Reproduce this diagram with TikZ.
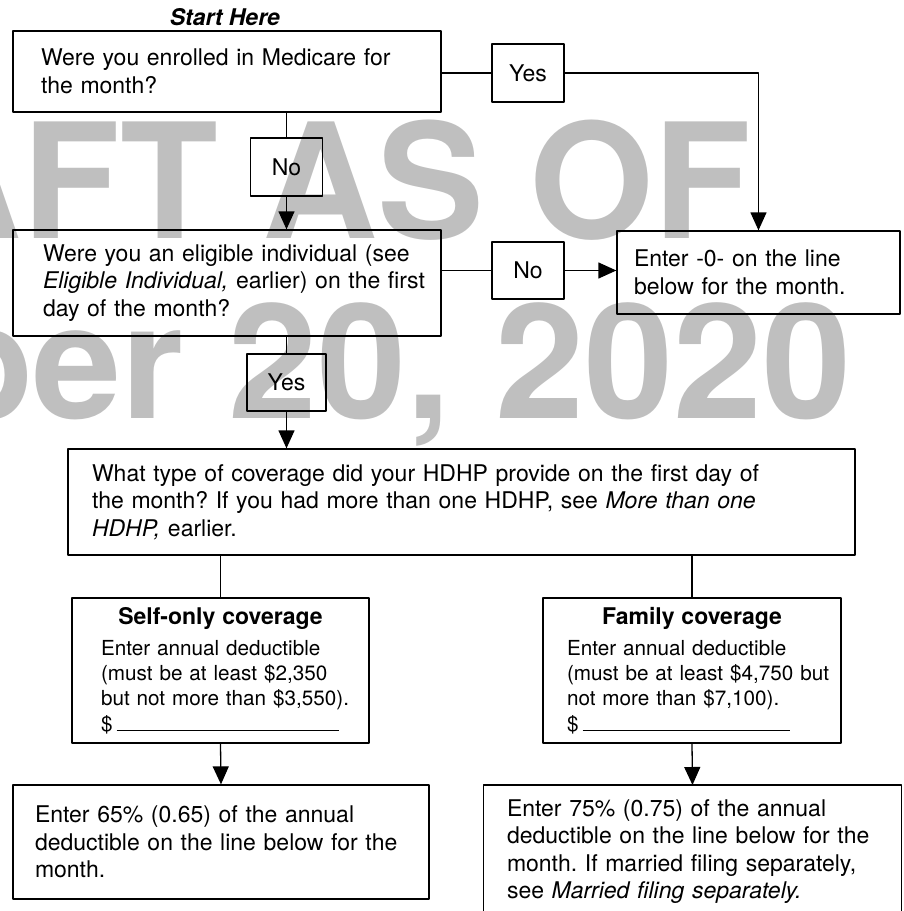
\documentclass[tikz,border=0pt]{standalone}
\usepackage{fontspec}
\setmainfont{TeX Gyre Heros}
\usetikzlibrary{arrows.meta}
\setlength{\parindent}{0pt}
\frenchspacing
\definecolor{wmgray}{RGB}{191,191,191}
\newcommand\mainsize{\fontsize{23}{27.6}\selectfont}
\newcommand\smallsize{\fontsize{20.7}{25.3}\selectfont}
\newcommand\covhead[1]{{\centering\mainsize\bfseries #1\par}\vspace{5.7pt}}
\begin{document}
\begin{tikzpicture}[>={Triangle[length=18pt,width=16pt]},line join=round,line cap=round,font=\mainsize,x=1pt,y=-1pt,line width=1.3pt,
qbox/.style={draw,align=left,inner ysep=0pt,execute at begin node={\rightskip=-40pt plus 1fil}},
tagbox/.style={draw,minimum width=72pt,minimum height=58pt,inner sep=0pt}]
\useasboundingbox (0,0) rectangle (903,911);
\clip (0,0) rectangle (903,911);
% watermark
\node[text=wmgray,font=\fontsize{160}{190}\selectfont\bfseries,inner sep=0pt,anchor=base east] (wmtop) at (752,238) {AFT AS OF};
\node[text=wmgray,font=\fontsize{160}{190}\selectfont\bfseries,inner sep=0pt,anchor=base east] (wmbot) at (852,418) {ber 20, 2020};
% questions
\node[anchor=base,font=\mainsize\bfseries\itshape] (start) at (225,25) {Start Here};
\node[qbox,text width=372pt,inner xsep=28pt,minimum height=81pt] (box1) at (227,71.5) {Were you enrolled in Medicare for\\the month?};
\node[tagbox] (yes1) at (528,73) {Yes};
\node[tagbox] (no1) at (286.5,167) {No};
\node[qbox,text width=368pt,inner xsep=30pt,minimum height=106pt] (box2) at (227,283) {Were you an eligible individual (see\\\textit{Eligible Individual,} earlier) on the first\\day of the month?};
\node[tagbox,minimum height=57pt] (no2) at (528,270.5) {No};
\node[qbox,text width=249pt,inner xsep=17pt,minimum height=83pt] (zero) at (758.5,272.5) {Enter -0- on the line\\below for the month.};
\node[tagbox,minimum width=79pt,minimum height=57pt] (yes2) at (286.5,382.5) {Yes};
\node[qbox,text width=739pt,inner xsep=24pt,minimum height=106pt] (hdhp) at (461.5,502) {What type of coverage did your HDHP provide on the first day of\\the month? If you had more than one HDHP, see \textit{More than one}\\\textit{HDHP,} earlier.};
% coverage
\node[qbox,font=\smallsize,text width=239pt,inner xsep=29pt,minimum height=145pt] (self) at (220.5,670.5) {\covhead{Self-only coverage}Enter annual deductible\\(must be at least \$2,350\\but not more than \$3,550).\\\$\hspace{4pt}\rule{222pt}{1.2pt}};
\node[qbox,font=\smallsize,text width=250pt,inner xsep=24pt,minimum height=145pt] (family) at (692,670.5) {\covhead{Family coverage}Enter annual deductible\\(must be at least \$4,750 but\\not more than \$7,100).\\\$\hspace{4pt}\rule{207pt}{1.2pt}};
% results
\node[qbox,text width=372pt,inner xsep=22pt,minimum height=114pt] (res65) at (221,842) {Enter 65\% (0.65) of the annual\\deductible on the line below for the\\month.};
\node[qbox,draw=none,text width=371pt,inner xsep=23pt,minimum height=132pt,anchor=north] (res75) at (692.5,785) {Enter 75\% (0.75) of the annual\\deductible on the line below for the\\month. If married filing separately,\\see \textit{Married filing separately.}};
\draw (res75.south west) |- (res75.north) -| (res75.south east);
% connectors
\draw (yes1.west -| box1.east) -- (yes1.west);
\draw[->] (yes1.east) -| (zero.north);
\draw (no1.north |- box1.south) -- (no1.north);
\draw[->] (no1.south) -- (no1.south |- box2.north);
\draw (no2.west -| box2.east) -- (no2.west);
\draw[->] (no2.east) -- (no2.east -| zero.west);
\draw (yes2.north |- box2.south) -- (yes2.north);
\draw[->] (yes2.south) -- (yes2.south |- hdhp.north);
\draw (self.north |- hdhp.south) -- (self.north);
\draw (family.north |- hdhp.south) -- (family.north);
\draw[->] (self.south) -- (res65.north);
\draw[->] (family.south) -- (res75.north);
\end{tikzpicture}
\end{document}
